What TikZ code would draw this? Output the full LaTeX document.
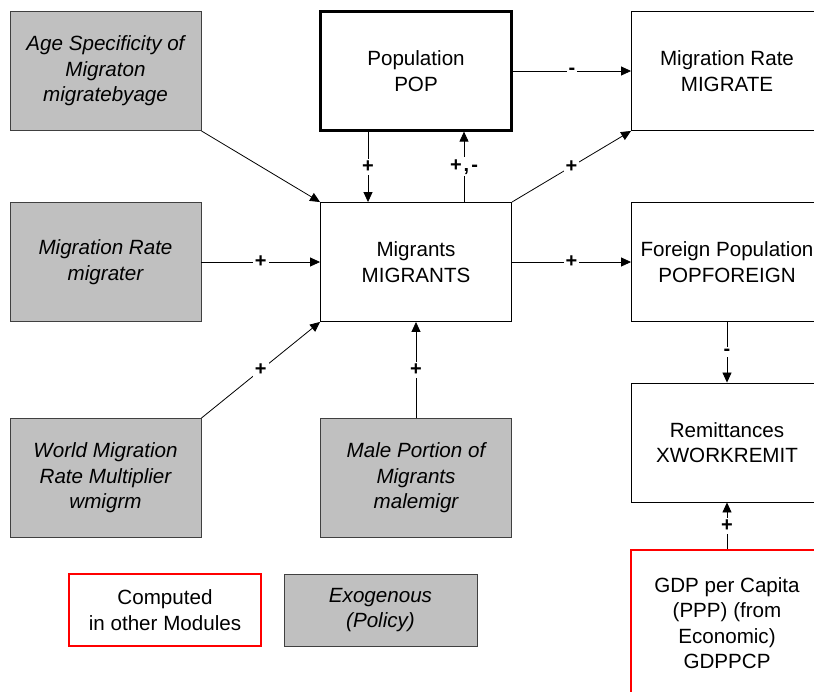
\documentclass[tikz,border=0pt]{standalone}
\usepackage{fontspec}
\setmainfont{Liberation Sans}
\usetikzlibrary{arrows.meta}
\definecolor{exogray}{RGB}{192,192,192}
\definecolor{exoline}{RGB}{64,64,64}
\begin{document}
\begin{tikzpicture}[x=1pt,y=-1pt,
  txt/.style={font=\fontsize{20.6}{25.5}\selectfont},
  box/.style={txt, draw=black, line width=0.9pt, fill=white,
    minimum width=191pt, minimum height=119pt, align=center, inner sep=0pt},
  stock/.style={box, line width=2.2pt},
  exo/.style={box, fill=exogray, draw=exoline, font=\fontsize{20.6}{25.5}\selectfont\itshape},
  ext/.style={box, draw=red, line width=2pt},
  link/.style={draw=black, line width=0.8pt, -{Triangle[length=10pt,width=9pt]}},
  sign/.style={font=\fontsize{20}{25}\selectfont\bfseries, fill=white, inner sep=2pt, midway}
]
\useasboundingbox[fill=white] (0,0) rectangle (814,691);

% upper row
\node[exo]   (age)     at (105.5,71)  {Age Specificity of\\Migraton\\migratebyage};
\node[stock] (pop)     at (416,71)    {Population\\POP};
\node[box]   (migrate) at (727,71)    {Migration Rate\\MIGRATE};

% middle row
\node[exo]   (rate)    at (105.5,262) {Migration Rate\\migrater};
\node[box]   (mig)     at (416,262)   {Migrants\\MIGRANTS};
\node[box]   (foreign) at (727,262)   {Foreign Population\\POPFOREIGN};

% lower rows
\node[box]   (remit)   at (727,442.5) {Remittances\\XWORKREMIT};
\node[exo]   (world)   at (105.5,478) {World Migration\\Rate Multiplier\\wmigrm};
\node[exo]   (male)    at (416,478)   {Male Portion of\\Migrants\\malemigr};
\node[ext, minimum width=192pt, minimum height=146pt] (gdp) at (727,623)
  {GDP per Capita\\(PPP) (from\\Economic)\\GDPPCP};

% legend
\node[ext, minimum width=192pt, minimum height=72pt] (legcomp) at (165,610)
  {Computed\\in other Modules};
\node[exo, minimum width=193pt, minimum height=72pt] (legexo) at (380.5,610)
  {Exogenous\\(Policy)};

% causal links
\draw[link] (age.south east) -- (mig.north west);
\draw[link] (rate.east) -- node[sign] {+} (mig.west);
\draw[link] (world.north east) -- node[sign] {+} (mig.south west);
\draw[link] (male.north) -- node[sign] {+} (mig.south);
\draw[link] ([xshift=-48pt]pop.south) -- node[sign] {+} ([xshift=-48pt]mig.north);
\draw[link] ([xshift=48pt]mig.north) -- node[sign] {+\hspace{2pt},\hspace{2pt}-} ([xshift=48pt]pop.south);
\draw[link] (pop.east) -- node[sign] {-} (migrate.west);
\draw[link] (mig.north east) -- node[sign] {+} (migrate.south west);
\draw[link] (mig.east) -- node[sign] {+} (foreign.west);
\draw[link] (foreign.south) -- node[sign] {-} (remit.north);
\draw[link] (gdp.north) -- node[sign] {+} (remit.south);
\end{tikzpicture}
\end{document}
